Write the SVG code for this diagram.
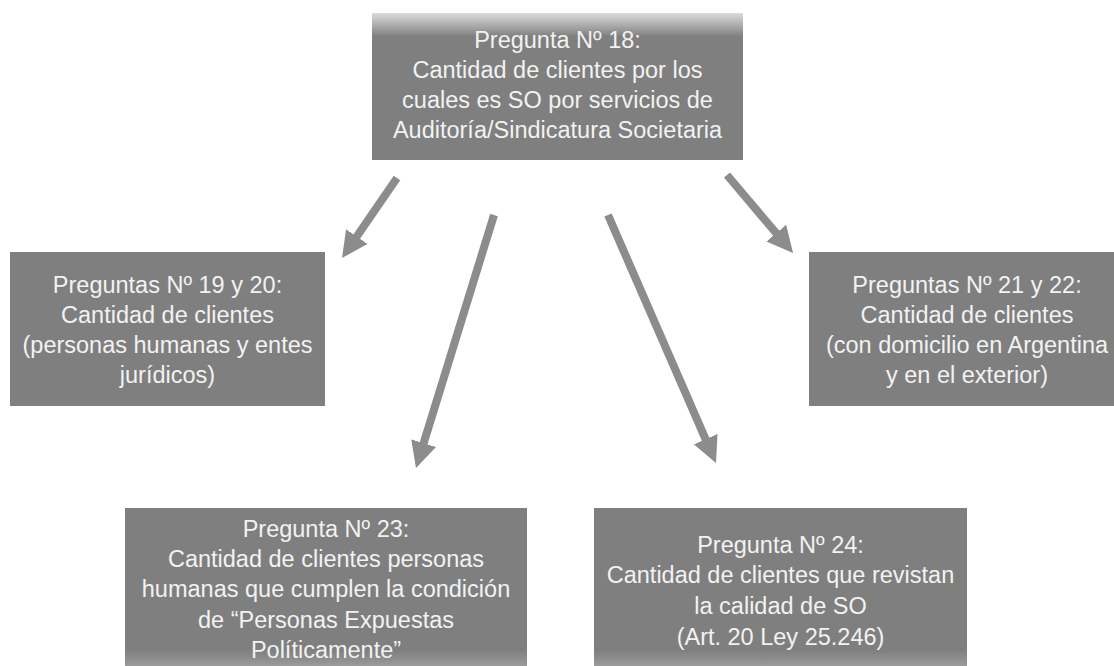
<svg xmlns="http://www.w3.org/2000/svg" width="1114" height="666" viewBox="0 0 1114 666">
<defs>
<style>
.box{fill:#7f7f7f;}
.t{font-family:"Liberation Sans",Arial,sans-serif;font-size:23.5px;fill:#f2f2f2;text-anchor:middle;}
.arr{stroke:#8c8c8c;stroke-width:8;fill:none;marker-end:url(#ah);}
</style>
<linearGradient id="gTop" x1="0" y1="0" x2="0" y2="1">
<stop offset="0" stop-color="#dcdcdc"/>
<stop offset="0.16" stop-color="#7f7f7f"/>
<stop offset="1" stop-color="#7f7f7f"/>
</linearGradient>
<linearGradient id="gBot" x1="0" y1="0" x2="0" y2="1">
<stop offset="0" stop-color="#7f7f7f"/>
<stop offset="0.9" stop-color="#7f7f7f"/>
<stop offset="1" stop-color="#9a9a9a"/>
</linearGradient>
<marker id="ah" markerUnits="userSpaceOnUse" markerWidth="26" markerHeight="26" viewBox="0 0 26 26" refX="10" refY="13" orient="auto">
<path d="M0,0 L26,13 L0,26 z" fill="#8c8c8c"/>
</marker>
</defs>
<rect width="1114" height="666" fill="#ffffff"/>
<g id="connectors">
<line class="arr" x1="397" y1="178" x2="351.1" y2="244.8"/>
<line class="arr" x1="494" y1="215" x2="420.7" y2="452.7"/>
<line class="arr" x1="608" y1="215" x2="709.6" y2="448.3"/>
<line class="arr" x1="727" y1="175" x2="782.7" y2="240.8"/>
</g>
<g id="q18">
<rect x="372" y="13" width="371" height="147" fill="url(#gTop)"/>
<text class="t" x="557.5" y="48">Pregunta Nº 18:</text>
<text class="t" x="557.5" y="78">Cantidad de clientes por los</text>
<text class="t" x="557.5" y="108">cuales es SO por servicios de</text>
<text class="t" x="557.5" y="138">Auditoría/Sindicatura Societaria</text>
</g>
<g id="q19-20">
<rect class="box" x="10" y="252" width="315" height="154"/>
<text class="t" x="167.5" y="293">Preguntas Nº 19 y 20:</text>
<text class="t" x="167.5" y="323">Cantidad de clientes</text>
<text class="t" x="167.5" y="353">(personas humanas y entes</text>
<text class="t" x="167.5" y="383">jurídicos)</text>
</g>
<g id="q21-22">
<rect class="box" x="809" y="252" width="316" height="154"/>
<text class="t" x="967" y="293">Preguntas Nº 21 y 22:</text>
<text class="t" x="967" y="323">Cantidad de clientes</text>
<text class="t" x="967" y="353">(con domicilio en Argentina</text>
<text class="t" x="967" y="383">y en el exterior)</text>
</g>
<g id="q23">
<rect x="125" y="508" width="402" height="158" fill="url(#gBot)"/>
<text class="t" x="326" y="537">Pregunta Nº 23:</text>
<text class="t" x="326" y="567">Cantidad de clientes personas</text>
<text class="t" x="326" y="597">humanas que cumplen la condición</text>
<text class="t" x="326" y="628">de “Personas Expuestas</text>
<text class="t" x="326" y="658">Políticamente”</text>
</g>
<g id="q24">
<rect x="594" y="508" width="373" height="158" fill="url(#gBot)"/>
<text class="t" x="780.5" y="553">Pregunta Nº 24:</text>
<text class="t" x="780.5" y="583">Cantidad de clientes que revistan</text>
<text class="t" x="780.5" y="614">la calidad de SO</text>
<text class="t" x="780.5" y="645">(Art. 20 Ley 25.246)</text>
</g>
</svg>
